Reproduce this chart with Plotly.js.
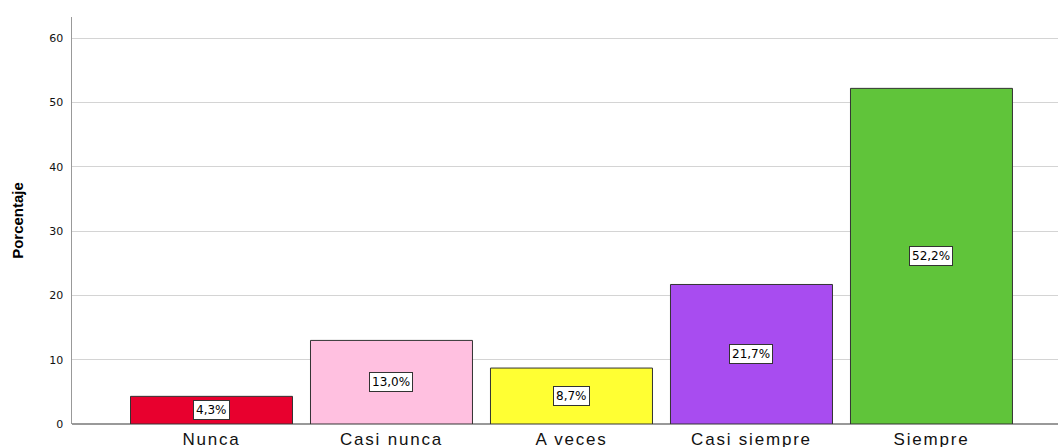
<!DOCTYPE html>
<html>
<head>
<meta charset="utf-8">
<script src="https://cdn.plot.ly/plotly-3.0.1.min.js"></script>
<style>
html,body{margin:0;padding:0;background:#fff;}
#chart{width:1058px;height:447px;}
.xtick text{letter-spacing:1.8px;}
</style>
</head>
<body>
<div id="chart"></div>
<script>
const categories = ["Nunca", "Casi nunca", "A veces", "Casi siempre", "Siempre"];
const percentages = [4.3, 13.0, 8.7, 21.7, 52.2];
const barColors = ["#E8002E", "#FFC0E0", "#FFFF33", "#A84CF0", "#60C43A"];
const yTicks = [0, 10, 20, 30, 40, 50, 60];

const labelText = percentages.map(v => v.toFixed(1).replace('.', ',') + '%');

const trace = {
  type: 'bar',
  x: categories,
  y: percentages,
  width: 0.9,
  marker: {color: barColors, line: {color: '#333333', width: 1}},
  hoverinfo: 'none'
};

const annotations = categories.map((c, i) => ({
  x: c, y: percentages[i] / 2, xref: 'x', yref: 'y',
  text: labelText[i], showarrow: false,
  font: {family: 'DejaVu Sans, sans-serif', size: 12, color: '#000'},
  bgcolor: '#ffffff', bordercolor: '#333333', borderwidth: 1, borderpad: 2
}));

const layout = {
  width: 1058, height: 447,
  margin: {l: 72, r: 0, t: 17, b: 23},
  paper_bgcolor: '#ffffff', plot_bgcolor: '#ffffff',
  showlegend: false,
  font: {family: 'Liberation Sans, Arial, sans-serif', color: '#000'},
  xaxis: {
    type: 'category',
    range: [-0.775, 4.703],
    showgrid: false, zeroline: false,
    showline: false,
    ticks: '',
    ticklabelstandoff: 3,
    tickfont: {size: 17, color: '#111'},
    fixedrange: true
  },
  yaxis: {
    range: [0, 63.3],
    tickvals: yTicks,
    ticktext: yTicks.map(String),
    showgrid: true, gridcolor: '#d4d4d4', gridwidth: 1,
    zeroline: true, zerolinecolor: '#999999', zerolinewidth: 1.5,
    showline: true, linecolor: '#999999', linewidth: 1.5,
    ticks: '', ticklabelstandoff: 5,
    tickfont: {family: 'DejaVu Sans, sans-serif', size: 11, color: '#111'},
    title: {text: '<b>Porcentaje</b>', font: {family: 'Liberation Sans Narrow, Arial Narrow, Liberation Sans, sans-serif', size: 15, color: '#000'}, standoff: 22},
    fixedrange: true
  },
  annotations: annotations
};

Plotly.newPlot('chart', [trace], layout, {displayModeBar: false, staticPlot: true});
</script>
</body>
</html>
